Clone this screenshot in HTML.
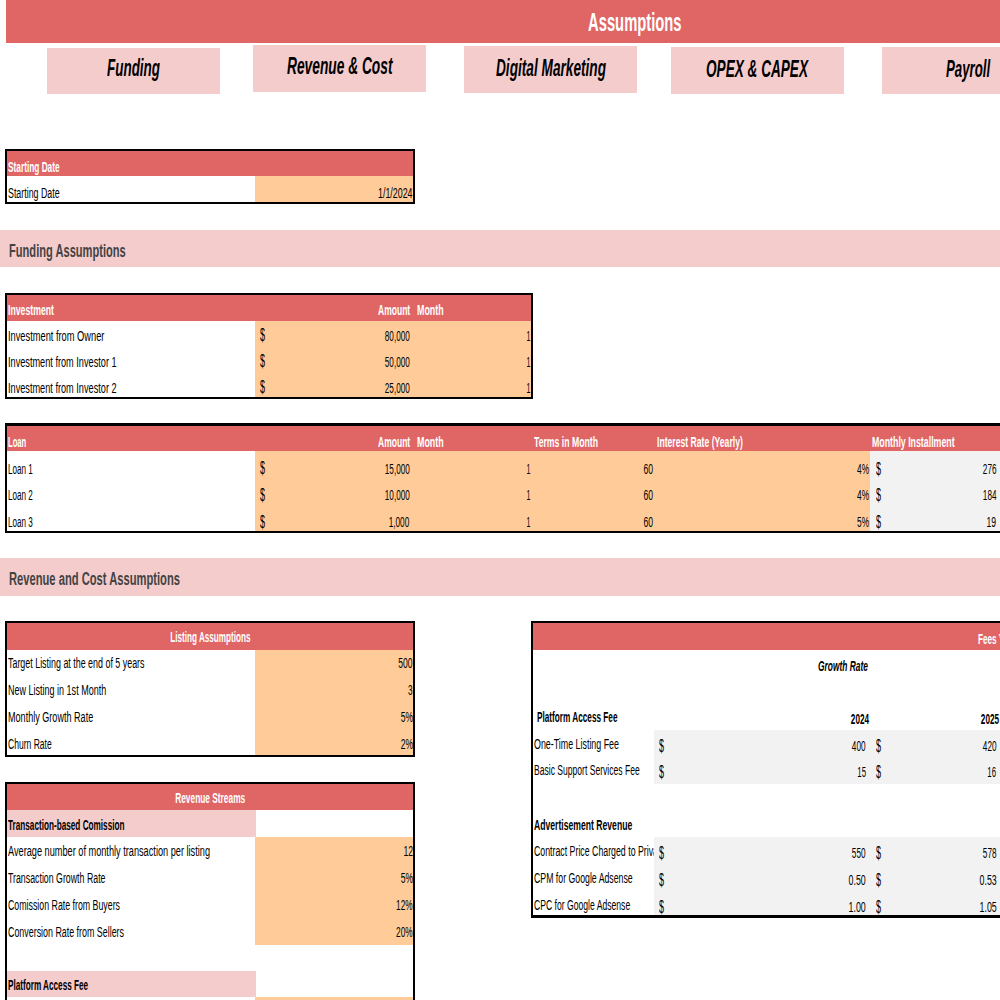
<!DOCTYPE html>
<html><head><meta charset="utf-8"><title>Assumptions</title>
<style>
html,body{margin:0;padding:0;background:#fff}
body{width:1000px;height:1000px;position:relative;overflow:hidden;font-family:"Liberation Sans",sans-serif}
.r{position:absolute}
.t{position:absolute;white-space:pre;line-height:1;font-size:15.3px;color:#000}
.l{transform-origin:0 0}.rt{transform-origin:100% 0}.c{transform-origin:50% 0}
.b{font-weight:700}.i{font-style:italic}.w{color:#fff}
.cl{position:absolute;overflow:hidden;top:0;height:1000px}
</style></head><body>
<div class="r" style="left:6px;top:0px;width:994px;height:43px;background:#E06666"></div>
<div class="r" style="left:47px;top:47.6px;width:173px;height:46.8px;background:#F4CCCC"></div>
<div class="r" style="left:253px;top:44.6px;width:173px;height:47.2px;background:#F4CCCC"></div>
<div class="r" style="left:464px;top:46px;width:173px;height:47px;background:#F4CCCC"></div>
<div class="r" style="left:671px;top:47px;width:173px;height:47px;background:#F4CCCC"></div>
<div class="r" style="left:882px;top:47px;width:173px;height:47px;background:#F4CCCC"></div>
<div class="r" style="left:5px;top:149px;width:410px;height:55px;background:#FFFFFF"></div>
<div class="r" style="left:255px;top:149px;width:160px;height:55px;background:#FFCC99"></div>
<div class="r" style="left:5px;top:149px;width:410px;height:27px;background:#E06666"></div>
<div class="r" style="left:0px;top:230px;width:1000px;height:37px;background:#F4CCCC"></div>
<div class="r" style="left:5px;top:293px;width:528px;height:106px;background:#FFFFFF"></div>
<div class="r" style="left:255px;top:293px;width:278px;height:106px;background:#FFCC99"></div>
<div class="r" style="left:5px;top:293px;width:528px;height:28px;background:#E06666"></div>
<div class="r" style="left:5px;top:424px;width:995px;height:109px;background:#FFFFFF"></div>
<div class="r" style="left:255px;top:424px;width:745px;height:109px;background:#FFCC99"></div>
<div class="r" style="left:870.4px;top:424px;width:129.6px;height:109px;background:#F2F2F2"></div>
<div class="r" style="left:5px;top:424px;width:995px;height:27px;background:#E06666"></div>
<div class="r" style="left:0px;top:558px;width:1000px;height:38px;background:#F4CCCC"></div>
<div class="r" style="left:5px;top:621px;width:410px;height:136px;background:#FFFFFF"></div>
<div class="r" style="left:255px;top:621px;width:160px;height:136px;background:#FFCC99"></div>
<div class="r" style="left:5px;top:621px;width:410px;height:28.7px;background:#E06666"></div>
<div class="r" style="left:5px;top:782px;width:410px;height:218px;background:#FFFFFF"></div>
<div class="r" style="left:5px;top:782px;width:250.5px;height:55px;background:#F4CCCC"></div>
<div class="r" style="left:255px;top:837px;width:160px;height:107.5px;background:#FFCC99"></div>
<div class="r" style="left:5px;top:970.6px;width:250.5px;height:26.9px;background:#F4CCCC"></div>
<div class="r" style="left:255px;top:997.4px;width:160px;height:2.6px;background:#FFCC99"></div>
<div class="r" style="left:5px;top:782px;width:410px;height:28px;background:#E06666"></div>
<div class="r" style="left:532px;top:621px;width:468px;height:297px;background:#FFFFFF"></div>
<div class="r" style="left:654.2px;top:729.5px;width:345.8px;height:54px;background:#F2F2F2"></div>
<div class="r" style="left:654.2px;top:836.5px;width:345.8px;height:81.5px;background:#F2F2F2"></div>
<div class="r" style="left:532px;top:621px;width:468px;height:29px;background:#E06666"></div>
<span class="t b w l" style="font-size:26.3px;top:8.94px;left:587.8px;transform:scaleX(0.5619)">Assumptions</span>
<span class="t b i l" style="font-size:23.5px;top:56.81px;left:107px;transform:scaleX(0.5719)">Funding</span>
<span class="t b i l" style="font-size:23.5px;top:55.31px;left:287px;transform:scaleX(0.5854)">Revenue &amp; Cost</span>
<span class="t b i l" style="font-size:23.5px;top:56.71px;left:495.5px;transform:scaleX(0.5810)">Digital Marketing</span>
<span class="t b i l" style="font-size:23.5px;top:57.51px;left:706px;transform:scaleX(0.5786)">OPEX &amp; CAPEX</span>
<span class="t b i l" style="font-size:23.5px;top:57.51px;left:945.8px;transform:scaleX(0.5640)">Payroll</span>
<span class="t b w l" style="top:159.45px;left:8px;transform:scaleX(0.5420)">Starting Date</span>
<span class="t l" style="top:185.45px;left:8px;transform:scaleX(0.5779)">Starting Date</span>
<span class="t rt" style="top:185.45px;right:587.5px;transform:scaleX(0.5794)">1/1/2024</span>
<span class="t b l" style="color:#434343;font-size:18.8px;top:242.09px;left:8.8px;transform:scaleX(0.5913)">Funding Assumptions</span>
<span class="t b w l" style="top:302.05px;left:8px;transform:scaleX(0.5695)">Investment</span>
<span class="t b w l" style="top:302.05px;left:378.2px;transform:scaleX(0.5573)">Amount</span>
<span class="t b w l" style="top:302.05px;left:416.6px;transform:scaleX(0.5798)">Month</span>
<span class="t l" style="top:327.65px;left:8px;transform:scaleX(0.6064)">Investment from Owner</span>
<span class="t l" style="font-size:18px;top:326.46px;left:260.2px;transform:scaleX(0.4992)">$</span>
<span class="t rt" style="top:327.65px;right:590.7px;transform:scaleX(0.5342)">80,000</span>
<span class="t rt" style="top:327.65px;right:469.7px;transform:scaleX(0.4580)">1</span>
<span class="t l" style="top:353.65px;left:8px;transform:scaleX(0.5997)">Investment from Investor 1</span>
<span class="t l" style="font-size:18px;top:352.46px;left:260.2px;transform:scaleX(0.4992)">$</span>
<span class="t rt" style="top:353.65px;right:590.7px;transform:scaleX(0.5342)">50,000</span>
<span class="t rt" style="top:353.65px;right:469.7px;transform:scaleX(0.4580)">1</span>
<span class="t l" style="top:379.65px;left:8px;transform:scaleX(0.5997)">Investment from Investor 2</span>
<span class="t l" style="font-size:18px;top:378.46px;left:260.2px;transform:scaleX(0.4992)">$</span>
<span class="t rt" style="top:379.65px;right:590.7px;transform:scaleX(0.5342)">25,000</span>
<span class="t rt" style="top:379.65px;right:469.7px;transform:scaleX(0.4580)">1</span>
<span class="t b w l" style="top:433.85px;left:8px;transform:scaleX(0.5007)">Loan</span>
<span class="t b w l" style="top:433.85px;left:378.2px;transform:scaleX(0.5573)">Amount</span>
<span class="t b w l" style="top:433.85px;left:416.6px;transform:scaleX(0.5798)">Month</span>
<span class="t b w l" style="top:433.85px;left:533.5px;transform:scaleX(0.5676)">Terms in Month</span>
<span class="t b w l" style="top:433.85px;left:656.5px;transform:scaleX(0.5638)">Interest Rate (Yearly)</span>
<span class="t b w l" style="top:433.85px;left:872.3px;transform:scaleX(0.5751)">Monthly Installment</span>
<span class="t l" style="top:460.55px;left:8px;transform:scaleX(0.5299)">Loan 1</span>
<span class="t l" style="font-size:18px;top:459.36px;left:260.2px;transform:scaleX(0.4992)">$</span>
<span class="t rt" style="top:460.55px;right:590.7px;transform:scaleX(0.5342)">15,000</span>
<span class="t rt" style="top:460.55px;right:469.6px;transform:scaleX(0.4580)">1</span>
<span class="t rt" style="top:460.55px;right:346.9px;transform:scaleX(0.5642)">60</span>
<span class="t rt" style="top:460.55px;right:130.8px;transform:scaleX(0.5428)">4%</span>
<span class="t l" style="font-size:18px;top:459.66px;left:875.7px;transform:scaleX(0.4992)">$</span>
<span class="t rt" style="top:460.55px;right:3.6px;transform:scaleX(0.5366)">276</span>
<span class="t l" style="top:487.25px;left:8px;transform:scaleX(0.5299)">Loan 2</span>
<span class="t l" style="font-size:18px;top:486.06px;left:260.2px;transform:scaleX(0.4992)">$</span>
<span class="t rt" style="top:487.25px;right:590.7px;transform:scaleX(0.5342)">10,000</span>
<span class="t rt" style="top:487.25px;right:469.6px;transform:scaleX(0.4580)">1</span>
<span class="t rt" style="top:487.25px;right:346.9px;transform:scaleX(0.5642)">60</span>
<span class="t rt" style="top:487.25px;right:130.8px;transform:scaleX(0.5428)">4%</span>
<span class="t l" style="font-size:18px;top:486.36px;left:875.7px;transform:scaleX(0.4992)">$</span>
<span class="t rt" style="top:487.25px;right:3.6px;transform:scaleX(0.5366)">184</span>
<span class="t l" style="top:513.95px;left:8px;transform:scaleX(0.5299)">Loan 3</span>
<span class="t l" style="font-size:18px;top:512.76px;left:260.2px;transform:scaleX(0.4992)">$</span>
<span class="t rt" style="top:513.95px;right:590.7px;transform:scaleX(0.5381)">1,000</span>
<span class="t rt" style="top:513.95px;right:469.6px;transform:scaleX(0.4580)">1</span>
<span class="t rt" style="top:513.95px;right:346.9px;transform:scaleX(0.5642)">60</span>
<span class="t rt" style="top:513.95px;right:130.8px;transform:scaleX(0.5428)">5%</span>
<span class="t l" style="font-size:18px;top:513.06px;left:875.7px;transform:scaleX(0.4992)">$</span>
<span class="t rt" style="top:513.95px;right:3.6px;transform:scaleX(0.5642)">19</span>
<span class="t b l" style="color:#434343;font-size:18.8px;top:570.19px;left:9px;transform:scaleX(0.5951)">Revenue and Cost Assumptions</span>
<span class="t b w c" style="top:628.55px;left:134.84px;transform:scaleX(0.5315)">Listing Assumptions</span>
<span class="t l" style="top:655.35px;left:8px;transform:scaleX(0.5816)">Target Listing at the end of 5 years</span>
<span class="t rt" style="top:655.35px;right:587.3px;transform:scaleX(0.5601)">500</span>
<span class="t l" style="top:682.20px;left:8px;transform:scaleX(0.5892)">New Listing in 1st Month</span>
<span class="t rt" style="top:682.20px;right:587.3px;transform:scaleX(0.5402)">3</span>
<span class="t l" style="top:709.05px;left:8px;transform:scaleX(0.5930)">Monthly Growth Rate</span>
<span class="t rt" style="top:709.05px;right:587.3px;transform:scaleX(0.5608)">5%</span>
<span class="t l" style="top:735.90px;left:8px;transform:scaleX(0.5586)">Churn Rate</span>
<span class="t rt" style="top:735.90px;right:587.3px;transform:scaleX(0.5608)">2%</span>
<span class="t b w c" style="top:789.55px;left:146.00px;transform:scaleX(0.5452)">Revenue Streams</span>
<span class="t b l" style="top:816.55px;left:8px;transform:scaleX(0.5354)">Transaction-based Comission</span>
<span class="t l" style="top:843.35px;left:8px;transform:scaleX(0.6004)">Average number of monthly transaction per listing</span>
<span class="t rt" style="top:843.35px;right:587.3px;transform:scaleX(0.5642)">12</span>
<span class="t l" style="top:870.20px;left:8px;transform:scaleX(0.5753)">Transaction Growth Rate</span>
<span class="t rt" style="top:870.20px;right:587.3px;transform:scaleX(0.5608)">5%</span>
<span class="t l" style="top:897.05px;left:8px;transform:scaleX(0.5753)">Comission Rate from Buyers</span>
<span class="t rt" style="top:897.05px;right:587.3px;transform:scaleX(0.5420)">12%</span>
<span class="t l" style="top:923.90px;left:8px;transform:scaleX(0.5806)">Conversion Rate from Sellers</span>
<span class="t rt" style="top:923.90px;right:587.3px;transform:scaleX(0.5420)">20%</span>
<span class="t b l" style="top:977.25px;left:8.1px;transform:scaleX(0.5343)">Platform Access Fee</span>
<span class="t b w l" style="top:630.75px;left:977.8px;transform:scaleX(0.5342)">Fees Y</span>
<span class="t b i l" style="top:657.75px;left:817.5px;transform:scaleX(0.5498)">Growth Rate</span>
<span class="t b l" style="top:708.85px;left:537px;transform:scaleX(0.5369)">Platform Access Fee</span>
<span class="t b rt" style="top:710.85px;right:130.5px;transform:scaleX(0.5348)">2024</span>
<span class="t b rt" style="top:710.85px;right:0.7px;transform:scaleX(0.5348)">2025</span>
<span class="t l" style="top:735.55px;left:533.8px;transform:scaleX(0.5801)">One-Time Listing Fee</span>
<span class="t l" style="font-size:18px;top:736.56px;left:659.3px;transform:scaleX(0.4992)">$</span>
<span class="t rt" style="top:737.55px;right:134.2px;transform:scaleX(0.5366)">400</span>
<span class="t l" style="font-size:18px;top:736.56px;left:876.3px;transform:scaleX(0.4992)">$</span>
<span class="t rt" style="top:737.55px;right:3.7px;transform:scaleX(0.5366)">420</span>
<span class="t l" style="top:762.40px;left:533.8px;transform:scaleX(0.5600)">Basic Support Services Fee</span>
<span class="t l" style="font-size:18px;top:763.41px;left:659.3px;transform:scaleX(0.4992)">$</span>
<span class="t rt" style="top:764.40px;right:134.2px;transform:scaleX(0.5113)">15</span>
<span class="t l" style="font-size:18px;top:763.41px;left:876.3px;transform:scaleX(0.4992)">$</span>
<span class="t rt" style="top:764.40px;right:3.7px;transform:scaleX(0.5113)">16</span>
<div class="cl" style="left:0;width:654.3px"><span class="t l" style="top:842.95px;left:533.8px;transform:scaleX(0.5740)">Contract Price Charged to Private Sellers</span></div>
<span class="t l" style="font-size:18px;top:843.96px;left:659.3px;transform:scaleX(0.4992)">$</span>
<span class="t rt" style="top:844.95px;right:134.2px;transform:scaleX(0.5366)">550</span>
<span class="t l" style="font-size:18px;top:843.96px;left:876.3px;transform:scaleX(0.4992)">$</span>
<span class="t rt" style="top:844.95px;right:3.7px;transform:scaleX(0.5366)">578</span>
<span class="t l" style="top:869.80px;left:533.8px;transform:scaleX(0.5718)">CPM for Google Adsense</span>
<span class="t l" style="font-size:18px;top:870.81px;left:659.3px;transform:scaleX(0.4992)">$</span>
<span class="t rt" style="top:871.80px;right:134.2px;transform:scaleX(0.5775)">0.50</span>
<span class="t l" style="font-size:18px;top:870.81px;left:876.3px;transform:scaleX(0.4992)">$</span>
<span class="t rt" style="top:871.80px;right:3.7px;transform:scaleX(0.5775)">0.53</span>
<span class="t l" style="top:896.65px;left:533.8px;transform:scaleX(0.5628)">CPC for Google Adsense</span>
<span class="t l" style="font-size:18px;top:897.66px;left:659.3px;transform:scaleX(0.4992)">$</span>
<span class="t rt" style="top:898.65px;right:134.2px;transform:scaleX(0.5775)">1.00</span>
<span class="t l" style="font-size:18px;top:897.66px;left:876.3px;transform:scaleX(0.4992)">$</span>
<span class="t rt" style="top:898.65px;right:3.7px;transform:scaleX(0.5775)">1.05</span>
<span class="t b l" style="top:816.55px;left:533.8px;transform:scaleX(0.5635)">Advertisement Revenue</span>
<div class="r" style="left:5.2px;top:149px;width:409.8px;height:2px;background:#000000"></div>
<div class="r" style="left:5.2px;top:202px;width:409.8px;height:2px;background:#000000"></div>
<div class="r" style="left:5.2px;top:149px;width:1.7px;height:55px;background:#000000"></div>
<div class="r" style="left:413px;top:149px;width:2px;height:55px;background:#000000"></div>
<div class="r" style="left:5.2px;top:293px;width:527.8px;height:2px;background:#000000"></div>
<div class="r" style="left:5.2px;top:397px;width:527.8px;height:2px;background:#000000"></div>
<div class="r" style="left:5.2px;top:293px;width:1.7px;height:106px;background:#000000"></div>
<div class="r" style="left:531px;top:293px;width:2px;height:106px;background:#000000"></div>
<div class="r" style="left:5.2px;top:423.4px;width:994.8px;height:2.3px;background:#000000"></div>
<div class="r" style="left:5.2px;top:530.6px;width:994.8px;height:2.4px;background:#000000"></div>
<div class="r" style="left:5.2px;top:423.4px;width:1.8px;height:109.6px;background:#000000"></div>
<div class="r" style="left:5.2px;top:621px;width:409.8px;height:2.3px;background:#000000"></div>
<div class="r" style="left:5.2px;top:754.5px;width:409.8px;height:2.5px;background:#000000"></div>
<div class="r" style="left:5.2px;top:621px;width:1.8px;height:136px;background:#000000"></div>
<div class="r" style="left:413px;top:621px;width:2px;height:136px;background:#000000"></div>
<div class="r" style="left:5.2px;top:781.5px;width:409.8px;height:2.5px;background:#000000"></div>
<div class="r" style="left:5.2px;top:1001px;width:409.8px;height:0px;background:#000000"></div>
<div class="r" style="left:5.2px;top:781.5px;width:1.7px;height:219.5px;background:#000000"></div>
<div class="r" style="left:413px;top:781.5px;width:2px;height:219.5px;background:#000000"></div>
<div class="r" style="left:531.2px;top:620.8px;width:468.8px;height:2.2px;background:#000000"></div>
<div class="r" style="left:531.2px;top:915px;width:468.8px;height:3px;background:#000000"></div>
<div class="r" style="left:531.2px;top:620.8px;width:2px;height:297.2px;background:#000000"></div>
</body></html>
